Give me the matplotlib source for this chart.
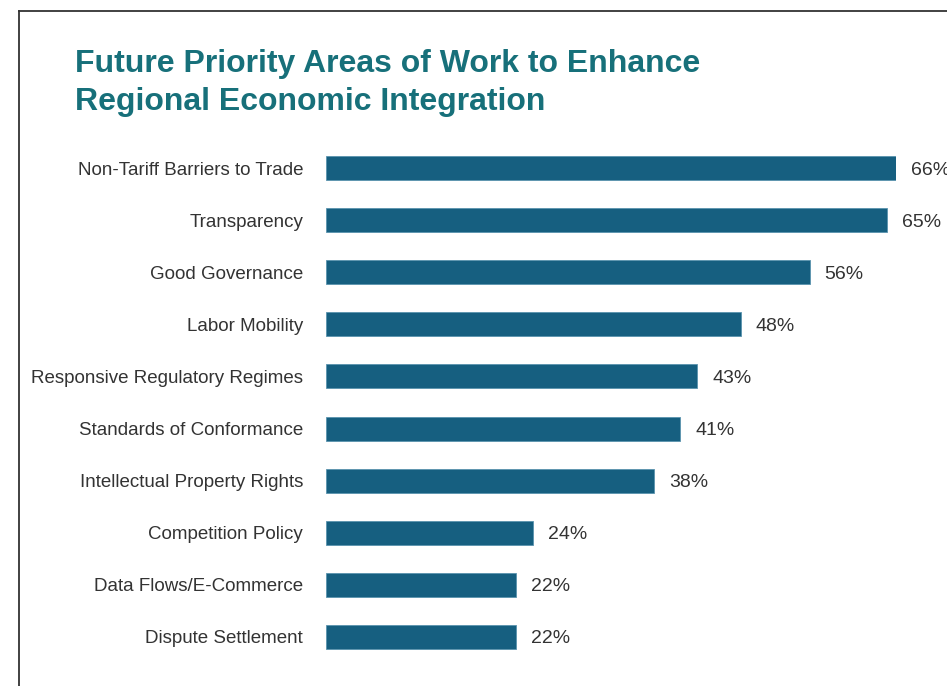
import matplotlib.pyplot as plt
from matplotlib.lines import Line2D

categories = [
    "Non-Tariff Barriers to Trade",
    "Transparency",
    "Good Governance",
    "Labor Mobility",
    "Responsive Regulatory Regimes",
    "Standards of Conformance",
    "Intellectual Property Rights",
    "Competition Policy",
    "Data Flows/E-Commerce",
    "Dispute Settlement",
]
values = [66, 65, 56, 48, 43, 41, 38, 24, 22, 22]
title_lines = ["Future Priority Areas of Work to Enhance", "Regional Economic Integration"]

W, H = 947, 686
bar_color = "#165F80"
title_color = "#17707A"
text_color = "#333333"
label_font = "Liberation Sans"

fig = plt.figure(figsize=(W / 100, H / 100), dpi=100)
ax = fig.add_axes([326 / W, 1 - 663 / H, (896 - 326) / W, (663 - 142) / H])

y = list(range(len(categories)))
ax.barh(y, values, height=0.46, color=bar_color, edgecolor="#5A93AE", linewidth=0.6)
ax.set_xlim(0, 66)
ax.set_ylim(len(categories) - 0.5, -0.5)
ax.set_yticks(y)
ax.set_yticklabels(categories, family=label_font, fontsize=13.5, color=text_color,
                   va="center_baseline")
ax.tick_params(axis="y", length=0, pad=16.5)
ax.set_xticks([])
for s in ax.spines.values():
    s.set_visible(False)

for yi, v in zip(y, values):
    ax.annotate(f"{v}%", (v, yi), xytext=(15, 0), textcoords="offset pixels",
                ha="left", va="center_baseline", family=label_font, fontsize=14,
                color=text_color, annotation_clip=False)

for line, base in zip(title_lines, [72, 110]):
    fig.text(75 / W, 1 - base / H, line, ha="left", va="baseline", fontsize=23,
             fontweight="bold", color=title_color, family="Liberation Sans")

# frame lines (left and top)
fig.add_artist(Line2D([18.5 / W, 18.5 / W], [0, 1 - 10.5 / H], transform=fig.transFigure,
                      color="#333333", linewidth=1.3))
fig.add_artist(Line2D([18.5 / W, 1], [1 - 10.5 / H, 1 - 10.5 / H], transform=fig.transFigure,
                      color="#333333", linewidth=1.3))

fig.savefig("out.png", dpi=100)
